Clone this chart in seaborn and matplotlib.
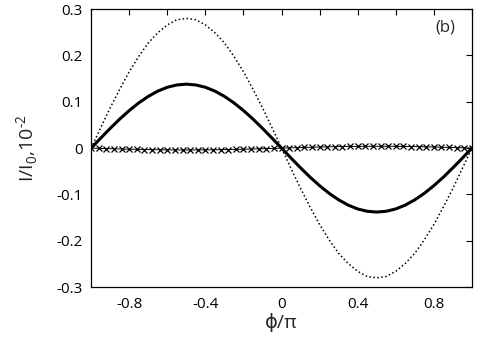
import numpy as np
import pandas as pd
import matplotlib
matplotlib.use("Agg")
import matplotlib.pyplot as plt
import seaborn as sns
from matplotlib.ticker import FixedLocator, FixedFormatter

# phase grid for the two smooth curves (step 0.05)
phi_curve = [-1.00, -0.95, -0.90, -0.85, -0.80, -0.75, -0.70, -0.65, -0.60, -0.55, -0.50,
             -0.45, -0.40, -0.35, -0.30, -0.25, -0.20, -0.15, -0.10, -0.05, 0.00,
             0.05, 0.10, 0.15, 0.20, 0.25, 0.30, 0.35, 0.40, 0.45, 0.50,
             0.55, 0.60, 0.65, 0.70, 0.75, 0.80, 0.85, 0.90, 0.95, 1.00]

dotted_vals = [0.000, 0.044, 0.087, 0.127, 0.165, 0.198, 0.227, 0.249, 0.266, 0.277, 0.280,
               0.277, 0.266, 0.249, 0.227, 0.198, 0.165, 0.127, 0.087, 0.044, 0.000,
               -0.044, -0.087, -0.127, -0.165, -0.198, -0.227, -0.249, -0.266, -0.277, -0.280,
               -0.277, -0.266, -0.249, -0.227, -0.198, -0.165, -0.127, -0.087, -0.044, 0.000]

solid_vals = [0.000, 0.0216, 0.0426, 0.0627, 0.0811, 0.0976, 0.1116, 0.1230, 0.1313, 0.1363, 0.138,
              0.1363, 0.1313, 0.1230, 0.1116, 0.0976, 0.0811, 0.0627, 0.0426, 0.0216, 0.000,
              -0.0216, -0.0426, -0.0627, -0.0811, -0.0976, -0.1116, -0.1230, -0.1313, -0.1363, -0.138,
              -0.1363, -0.1313, -0.1230, -0.1116, -0.0976, -0.0811, -0.0627, -0.0426, -0.0216, 0.000]

# phase grid for the cross-marked series (step 0.04)
phi_cross = [-1.00, -0.96, -0.92, -0.88, -0.84, -0.80, -0.76, -0.72, -0.68, -0.64, -0.60,
             -0.56, -0.52, -0.48, -0.44, -0.40, -0.36, -0.32, -0.28, -0.24, -0.20,
             -0.16, -0.12, -0.08, -0.04, 0.00, 0.04, 0.08, 0.12, 0.16, 0.20,
             0.24, 0.28, 0.32, 0.36, 0.40, 0.44, 0.48, 0.52, 0.56, 0.60,
             0.64, 0.68, 0.72, 0.76, 0.80, 0.84, 0.88, 0.92, 0.96, 1.00]

cross_vals = [0.0, -0.0005, -0.0010, -0.0015, -0.0019, -0.0024, -0.0027, -0.0031, -0.0034, -0.0036, -0.0038,
              -0.0039, -0.0040, -0.0040, -0.0039, -0.0038, -0.0036, -0.0034, -0.0031, -0.0027, -0.0024,
              -0.0019, -0.0015, -0.0010, -0.0005, 0.0, 0.0005, 0.0010, 0.0015, 0.0019, 0.0024,
              0.0027, 0.0031, 0.0034, 0.0036, 0.0038, 0.0039, 0.0040, 0.0040, 0.0039, 0.0038,
              0.0036, 0.0034, 0.0031, 0.0027, 0.0024, 0.0019, 0.0015, 0.0010, 0.0005, 0.0]

x_major = [-0.8, -0.4, 0.0, 0.4, 0.8]
x_major_labels = ["-0.8", "-0.4", "0", "0.4", "0.8"]
x_minor = [-1.0, -0.6, -0.2, 0.2, 0.6, 1.0]
y_ticks = [-0.3, -0.2, -0.1, 0.0, 0.1, 0.2, 0.3]
y_labels = ["-0.3", "-0.2", "-0.1", "0", "0.1", "0.2", "0.3"]

sns.set_style("white")
plt.rcParams["font.family"] = ["Open Sans", "DejaVu Sans"]
plt.rcParams["axes.unicode_minus"] = False
plt.rcParams["mathtext.fontset"] = "custom"
plt.rcParams["mathtext.rm"] = "Open Sans"

fig = plt.figure(figsize=(4.85, 3.37), dpi=100)
ax = fig.add_axes([0.188, 0.148, 0.785, 0.825])

df_curve = pd.DataFrame({"phi": phi_curve, "dotted": dotted_vals, "solid": solid_vals})
df_cross = pd.DataFrame({"phi": phi_cross, "cross": cross_vals})

sns.lineplot(data=df_curve, x="phi", y="dotted", ax=ax, color="black",
             linewidth=1.1, linestyle=(0, (1, 1.6)))
sns.lineplot(data=df_curve, x="phi", y="solid", ax=ax, color="black", linewidth=2.2)
sns.lineplot(data=df_cross, x="phi", y="cross", ax=ax, color="black", linewidth=0.7,
             marker="x", markersize=4.5, markeredgewidth=0.9,
             markeredgecolor="black", markerfacecolor="black")

ax.set_xlim(-1, 1)
ax.set_ylim(-0.3, 0.3)
ax.xaxis.set_major_locator(FixedLocator(x_major))
ax.xaxis.set_major_formatter(FixedFormatter(x_major_labels))
ax.xaxis.set_minor_locator(FixedLocator(x_minor))
ax.yaxis.set_major_locator(FixedLocator(y_ticks))
ax.yaxis.set_major_formatter(FixedFormatter(y_labels))
ax.tick_params(which="both", direction="in", top=True, right=True, length=4,
               width=0.8, labelsize=11, colors="black")
ax.tick_params(axis="x", pad=7)
ax.tick_params(axis="y", pad=6)
for s in ax.spines.values():
    s.set_color("black")
    s.set_linewidth(0.9)

ax.set_xlabel("ϕ/π", fontsize=14, labelpad=1)
ax.set_ylabel(r"I/I$_{\mathrm{0}}$,10$^{\text{-2}}$", fontsize=14, labelpad=12)
ax.text(0.86, 0.26, "(b)", fontsize=12, ha="center", va="center")

fig.savefig("out.png", dpi=100)
